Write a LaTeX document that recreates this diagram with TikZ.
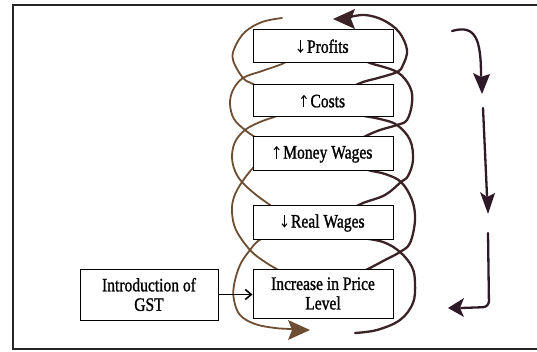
\documentclass[tikz,border=0pt]{standalone}
\usepackage{fontspec}
\setmainfont{Liberation Serif}[FakeStretch=0.82,FakeBold=1.2]
\usetikzlibrary{arrows.meta}
\definecolor{leftbrown}{HTML}{6E4E33}
\definecolor{rightdark}{HTML}{3B2227}
\definecolor{arrowdark}{HTML}{2E1A26}
\begin{document}
\begin{tikzpicture}[x=1pt,y=-1pt,
  box/.style={draw=black, line width=1pt, fill=white, minimum width=140pt, inner sep=0pt, align=center, font=\fontsize{19}{19.5}\selectfont},
  lstrand/.style={draw=leftbrown, line width=1.8pt, line cap=round},
  rstrand/.style={draw=rightdark, line width=2.3pt, line cap=round},
  flow/.style={draw=arrowdark, line width=2.3pt, line cap=round, rounded corners=6pt},
  udarrow/.style={line width=1.1pt, -{Straight Barb[length=3pt,width=5pt]}}]
\useasboundingbox (0,0) rectangle (537,352);
% frame
\draw[line width=2.2pt, draw=black!85] (537,5) -- (13,5) -- (13,349) -- (537,349);

% left (brown) strands
\draw[lstrand] plot[smooth, tension=0.6] coordinates {(282,18) (262,22) (245,32) (235,47) (233,60) (243,78) (253,84) (268,92)};
\draw[lstrand] plot[smooth, tension=0.6] coordinates {(292,58) (282,64) (262,71) (243,78) (233,90) (230,104) (234,119) (245,130) (255,137) (268,145)};
\draw[lstrand] plot[smooth, tension=0.6] coordinates {(286,112) (277,116) (260,122) (245,130) (235,142) (232,157) (235,171) (242,182) (255,194) (270,205) (280,212)};
\draw[lstrand] plot[smooth, tension=0.6] coordinates {(262,162) (253,168) (242,182) (234,197) (232,212) (236,230) (250,250) (265,262) (282,272)};
\draw[lstrand] plot[smooth, tension=0.6] coordinates {(268,236) (258,241) (250,250) (240,265) (234,285) (234,300) (240,315) (255,324) (275,328) (292,329)};

% right (dark) strands
\draw[rstrand] plot[smooth, tension=0.6] coordinates {(350,17) (365,15) (383,20) (399,32) (407,50) (403,65) (397,72) (378,78) (363,82) (350,88)};
\draw[rstrand] plot[smooth, tension=0.6] coordinates {(360,58) (370,63) (397,72) (410,87) (412,103) (407,120) (397,125) (380,130) (368,135) (358,140)};
\draw[rstrand] plot[smooth, tension=0.6] coordinates {(350,110) (360,115) (380,119) (397,125) (410,140) (413,160) (408,176) (401,182) (385,195) (363,203) (352,209)};
\draw[rstrand] plot[smooth, tension=0.6] coordinates {(358,165) (368,170) (385,174) (401,182) (412,200) (415,220) (410,243) (400,252) (385,260) (370,268) (360,273)};
\draw[rstrand] plot[smooth, tension=0.6] coordinates {(347,234) (357,237) (383,242) (400,252) (412,267) (415,283) (413,303) (400,320) (377,330) (355,333)};

% spiral arrowheads
\fill[rightdark] (333,19) -- (355,9) -- (351,19) -- (355,29) -- cycle;
\fill[leftbrown] (310,330) -- (288,320) -- (292,330) -- (288,340) -- cycle;

% boxes
\node[box, minimum height=33pt] (profits) at (323,46.5) {\tikz[baseline=0pt]\draw[udarrow] (0,12.5pt) -- (0,0);\hspace{3.5pt}Profits};
\node[box, minimum height=32pt] (costs) at (323,101) {\tikz[baseline=0pt]\draw[udarrow] (0,0) -- (0,12.5pt);\hspace{3.5pt}Costs};
\node[box, minimum height=34pt] (money) at (323,154) {\tikz[baseline=0pt]\draw[udarrow] (0,0) -- (0,12.5pt);\hspace{3.5pt}Money Wages};
\node[box, minimum height=34pt] (real) at (323,223) {\tikz[baseline=0pt]\draw[udarrow] (0,12.5pt) -- (0,0);\hspace{3.5pt}Real Wages};
\node[box, minimum height=49pt] (price) at (323,293.5) {Increase in Price\\Level};
\node[box, minimum width=138pt, minimum height=51pt] (gst) at (149,294.5) {Introduction of\\GST};
\draw[line width=1.6pt, -{Straight Barb[length=6pt,width=10pt,line width=1.6pt]}] (gst.east) -- (gst.east -| price.west);

% flow arrows on the right
\coordinate (a1s) at (452,31);
\coordinate (a1e) at (481,76);
\draw[flow] (a1s) .. controls (476,24) and (481,40) .. (a1e);
\fill[arrowdark] (482,94) -- (473,73) -- (481,77) -- (490,74) -- cycle;
\coordinate (a2s) at (483,108);
\coordinate (a2e) at (487,196);
\draw[flow] (a2s) -- (a2e);
\fill[arrowdark] (488,214) -- (480,192) -- (487,197) -- (495,193) -- cycle;
\coordinate (a3s) at (488,233);
\coordinate (a3c) at (489,307);
\coordinate (a3e) at (461,308);
\draw[flow] (a3s) -- (a3c) -- (a3e);
\fill[arrowdark] (448,308) -- (464,298) -- (460,308) -- (464,317) -- cycle;
\end{tikzpicture}
\end{document}
